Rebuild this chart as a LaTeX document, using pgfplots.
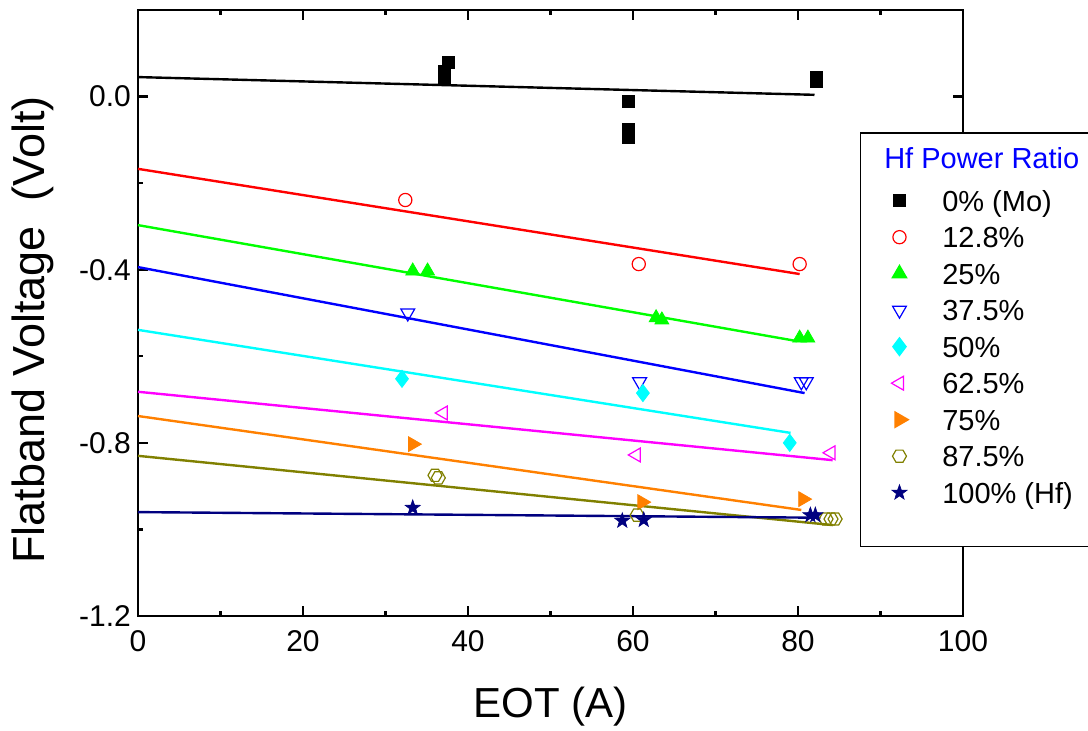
\documentclass[border=0pt]{standalone}
\usepackage{fontspec}
\setmainfont{Liberation Sans}
\usepackage{pgfplots}
\pgfplotsset{compat=1.18}
\definecolor{vorange}{RGB}{255,128,0}
\definecolor{volive}{RGB}{128,128,0}
\definecolor{vnavy}{RGB}{0,0,128}
\definecolor{vcyan}{RGB}{0,255,255}
\definecolor{vmagenta}{RGB}{255,0,255}
% open hexagon and filled five-point star
\pgfdeclareplotmark{hexagon}{%
  \pgfpathmoveto{\pgfpointpolar{0}{\pgfplotmarksize}}%
  \pgfpathlineto{\pgfpointpolar{60}{\pgfplotmarksize}}%
  \pgfpathlineto{\pgfpointpolar{120}{\pgfplotmarksize}}%
  \pgfpathlineto{\pgfpointpolar{180}{\pgfplotmarksize}}%
  \pgfpathlineto{\pgfpointpolar{240}{\pgfplotmarksize}}%
  \pgfpathlineto{\pgfpointpolar{300}{\pgfplotmarksize}}%
  \pgfpathclose\pgfusepathqstroke}
\pgfdeclareplotmark{fstar}{%
  \pgfpathmoveto{\pgfpointpolar{90}{\pgfplotmarksize}}%
  \pgfpathlineto{\pgfpointpolar{126}{0.4\pgfplotmarksize}}%
  \pgfpathlineto{\pgfpointpolar{162}{\pgfplotmarksize}}%
  \pgfpathlineto{\pgfpointpolar{198}{0.4\pgfplotmarksize}}%
  \pgfpathlineto{\pgfpointpolar{234}{\pgfplotmarksize}}%
  \pgfpathlineto{\pgfpointpolar{270}{0.4\pgfplotmarksize}}%
  \pgfpathlineto{\pgfpointpolar{306}{\pgfplotmarksize}}%
  \pgfpathlineto{\pgfpointpolar{342}{0.4\pgfplotmarksize}}%
  \pgfpathlineto{\pgfpointpolar{18}{\pgfplotmarksize}}%
  \pgfpathlineto{\pgfpointpolar{54}{0.4\pgfplotmarksize}}%
  \pgfpathclose\pgfusepathqfillstroke}
\newcommand\ls{\rule[-3.5pt]{0pt}{14.5pt}}
\begin{document}
\begin{tikzpicture}
\path[use as bounding box] (-69pt,-57.5pt) rectangle (475pt,308pt);
\begin{axis}[
    at={(0pt,0pt)}, anchor=south west,
    scale only axis, width=412.5pt, height=303pt,
    xmin=0, xmax=100, ymin=-1.2, ymax=0.2,
    xtick={0,20,...,100}, minor x tick num=1,
    ytick={-1.2,-0.8,-0.4,0}, yticklabels={-1.2,-0.8,-0.4,0.0},
    minor y tick num=1,
    tick align=inside, tick pos=both,
    major tick length=5pt, minor tick length=2.5pt,
    every tick/.style={black, line width=1.1pt},
    axis line style={line width=1.2pt},
    tick label style={font=\fontsize{15}{18}\selectfont},
    /pgf/number format/assume math mode=true,
    xticklabel style={yshift=-3.5pt},
    xlabel={EOT (A)},
    ylabel={Flatband Voltage\ \ (Volt)},
    xlabel style={font=\fontsize{21}{25}\selectfont,
        at={(axis description cs:0.5,-0.168)}, anchor=base},
    ylabel style={font=\fontsize{22.5}{26}\selectfont,
        at={(axis description cs:-0.128,0.472)}, anchor=center},
    legend cell align=left,
    legend style={at={(0.875,0.7987)}, anchor=north west, draw=black,
        line width=0.8pt, fill=white, inner xsep=10.5pt, inner ysep=3pt,
        row sep=3.75pt, column sep=12.5pt,
        font=\fontsize{14.5}{17}\selectfont,
        nodes={inner sep=0pt, text depth=, text height=}},
    legend image code/.code={\path (0pt,0pt) (17pt,0pt);
        \draw plot coordinates {(8.5pt,1.5pt)};},
]
\addlegendimage{empty legend}
\addlegendentry{\hspace{-29pt}\textcolor{blue}{Hf Power Ratio}\rule[-6.75pt]{0pt}{21.45pt}}

\addplot[only marks, mark=square*, mark size=3pt, black] coordinates {
(37.2,0.043)(37.2,0.057)(37.6,0.080)(59.5,-0.012)(59.5,-0.077)(59.5,-0.095)(82.2,0.045)(82.2,0.035)
};
\addlegendentry{0\% (Mo)\ls}
\addplot[forget plot, black, line width=1.2pt] coordinates {(0,0.045)(82,0.004)};

\addplot[only marks, mark=o, mark size=3.3pt, red, mark options={line width=0.6pt}] coordinates {
(32.4,-0.239)(60.7,-0.387)(80.2,-0.387)
};
\addlegendentry{12.8\%\ls}
\addplot[forget plot, red, line width=1.2pt] coordinates {(0,-0.167)(80.2,-0.410)};

\addplot[only marks, mark=triangle*, mark size=4pt, green] coordinates {
(33.3,-0.403)(35.1,-0.403)(62.8,-0.511)(63.5,-0.516)(80.2,-0.558)(81.2,-0.558)
};
\addlegendentry{25\%\ls}
\addplot[forget plot, green, line width=1.2pt] coordinates {(0,-0.297)(79.9,-0.565)};

\addplot[only marks, mark=triangle, mark size=4pt, blue, mark options={rotate=180, line width=0.6pt}] coordinates {
(32.7,-0.500)(60.8,-0.659)(80.4,-0.659)(81.0,-0.659)
};
\addlegendentry{37.5\%\ls}
\addplot[forget plot, blue, line width=1.2pt] coordinates {(0,-0.394)(80.8,-0.685)};

\addplot[only marks, mark=diamond*, mark size=4.3pt, vcyan] coordinates {
(32.0,-0.652)(61.2,-0.685)(79.0,-0.800)
};
\addlegendentry{50\%\ls}
\addplot[forget plot, vcyan, line width=1.2pt] coordinates {(0,-0.539)(79.1,-0.777)};

\addplot[only marks, mark=triangle, mark size=4pt, vmagenta, mark options={rotate=90, line width=0.6pt}] coordinates {
(37.0,-0.731)(60.4,-0.828)(84.0,-0.823)
};
\addlegendentry{62.5\%\ls}
\addplot[forget plot, vmagenta, line width=1.2pt] coordinates {(0,-0.682)(84.2,-0.840)};

\addplot[only marks, mark=triangle*, mark size=4.3pt, vorange, mark options={rotate=-90}] coordinates {
(33.3,-0.803)(61.1,-0.937)(80.6,-0.930)
};
\addlegendentry{75\%\ls}
\addplot[forget plot, vorange, line width=1.2pt] coordinates {(0,-0.738)(80.4,-0.955)};

\addplot[only marks, mark=hexagon, mark size=3.5pt, volive, mark options={line width=0.6pt}] coordinates {
(36.0,-0.875)(36.4,-0.881)(60.5,-0.967)(83.4,-0.976)(84.0,-0.976)(84.5,-0.976)
};
\addlegendentry{87.5\%\ls}
\addplot[forget plot, volive, line width=1.2pt] coordinates {(0,-0.830)(84.2,-0.990)};

\addplot[only marks, mark=fstar, mark size=4pt, vnavy, mark options={line width=0.3pt}] coordinates {
(33.3,-0.950)(58.7,-0.980)(61.3,-0.978)(81.5,-0.967)(82.1,-0.967)
};
\addlegendentry{100\% (Hf)\ls}
\addplot[forget plot, vnavy, line width=1.2pt] coordinates {(0,-0.960)(82.7,-0.973)};

\addlegendimage{empty legend}
\addlegendentry{\rule[-5.75pt]{0pt}{11.5pt}}
\end{axis}
\end{tikzpicture}
\end{document}
